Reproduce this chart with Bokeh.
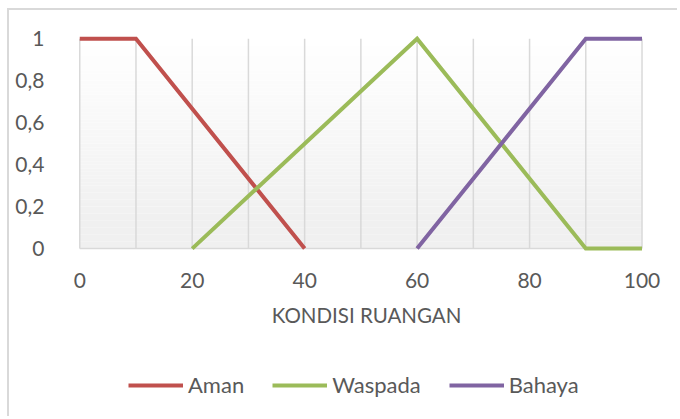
from bokeh.plotting import figure
from bokeh.models import (Range1d, FixedTicker, Legend, LegendItem)
from bokeh.embed import file_html
from bokeh.resources import INLINE

# ---- data ----
aman_x = [0, 10, 40]
aman_y = [1, 1, 0]
waspada_x = [20, 60, 90, 100]
waspada_y = [0, 1, 0, 0]
bahaya_x = [60, 90, 100]
bahaya_y = [0, 1, 1]

x_ticks = [0, 20, 40, 60, 80, 100]
grid_x = [0, 10, 20, 30, 40, 50, 60, 70, 80, 90, 100]
y_ticks = [0, 0.2, 0.4, 0.6, 0.8, 1]
y_tick_labels = ["0", "0,2", "0,4", "0,6", "0,8", "1"]
series_names = ["Aman", "Waspada", "Bahaya"]
x_title = "KONDISI RUANGAN"

colors = ["#C0504D", "#9BBB59", "#8064A2"]
FONT = "Lato"
TXT = "#595959"
GRID = "#d9d9d9"

W, H = 670, 408
p = figure(width=W, height=H, output_backend="svg", toolbar_location=None,
           x_range=Range1d(-2, 104), y_range=Range1d(-0.8095, 1.02),
           min_border_left=59, min_border_right=15, min_border_top=24,
           min_border_bottom=0)
p.styles = {"border-top": f"2px solid {GRID}", "border-left": f"2px solid {GRID}",
            "margin-left": "7px", "margin-top": "8px"}
p.outline_line_color = None
p.xgrid.visible = False
p.ygrid.visible = False
p.background_fill_color = "white"
p.border_fill_color = "white"

# gradient plot-area background (styling)
n_bands = 60
bottoms = [i / n_bands for i in range(n_bands)]
tops = [(i + 1) / n_bands for i in range(n_bands)]
band_cols = []
for i in range(n_bands):
    t = 1 - (i + 0.5) / n_bands  # 0 at top, 1 at bottom
    g = int(round(255 - 15 * min(1.0, t * 1.15)))
    band_cols.append(f"#{g:02x}{g:02x}{g:02x}")
p.quad(left=x_ticks[0], right=x_ticks[-1], bottom=bottoms, top=tops,
       fill_color=band_cols, line_color=None)

# vertical gridlines from 0 to 1, and the baseline
p.segment(x0=grid_x, y0=[y_ticks[0]] * len(grid_x), x1=grid_x,
          y1=[y_ticks[-1]] * len(grid_x), line_color=GRID, line_width=1.5)
p.segment(x0=[x_ticks[0]], y0=[y_ticks[0]], x1=[x_ticks[-1]], y1=[y_ticks[0]],
          line_color=GRID, line_width=1.5)

renderers = []
for xs, ys, c in [(aman_x, aman_y, colors[0]), (waspada_x, waspada_y, colors[1]),
                  (bahaya_x, bahaya_y, colors[2])]:
    r = p.line(xs, ys, line_color=c, line_width=4, line_join="miter")
    renderers.append(r)

# axes
p.xaxis.fixed_location = 0
p.xaxis.ticker = FixedTicker(ticks=x_ticks)
p.yaxis.ticker = FixedTicker(ticks=y_ticks)
p.yaxis.major_label_overrides = {t: l for t, l in zip(y_ticks, y_tick_labels)}
for ax in (p.xaxis[0], p.yaxis[0]):
    ax.axis_line_color = None
    ax.major_tick_line_color = None
    ax.minor_tick_line_color = None
    ax.major_label_text_font = FONT
    ax.major_label_text_font_size = "21px"
    ax.major_label_text_color = TXT
p.yaxis.major_label_standoff = 18
p.xaxis.major_label_standoff = 18
p.xaxis.axis_label = x_title
p.xaxis.axis_label_text_font = FONT
p.xaxis.axis_label_text_font_size = "20.5px"
p.xaxis.axis_label_text_font_style = "normal"
p.xaxis.axis_label_text_color = TXT
p.xaxis.axis_label_standoff = 12

legend = Legend(items=[LegendItem(label=n, renderers=[r]) for n, r in zip(series_names, renderers)],
                orientation="horizontal", location=(60, 20),
                glyph_width=55, glyph_height=20, label_standoff=5, spacing=28,
                padding=0, margin=0, border_line_color=None,
                background_fill_alpha=0,
                label_text_font=FONT, label_text_font_size="22px", label_text_color=TXT)
p.add_layout(legend, "center")

open("out.html", "w").write(file_html(p, INLINE))
